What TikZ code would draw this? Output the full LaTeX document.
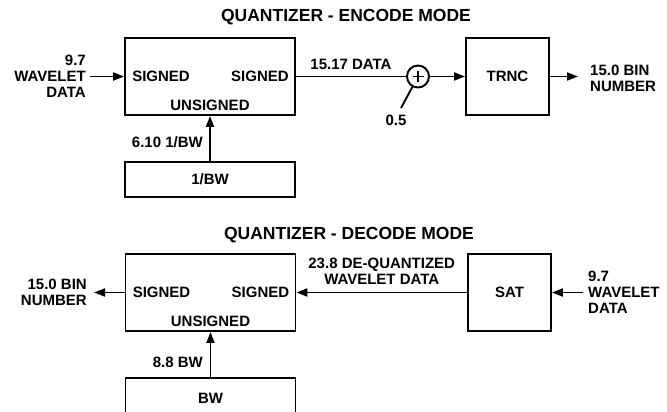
\documentclass[tikz,border=0pt]{standalone}
\usepackage{fontspec}
\setmainfont{Liberation Sans}
\usetikzlibrary{arrows.meta,positioning}
\tikzset{%
  every block/.style={
    draw,
    line width=1.9pt,
    inner sep=0pt,
    font=\fontsize{15}{16}\selectfont\bfseries
  },
  block wide/.style={minimum width=170pt, minimum height=77pt},
  block small/.style={minimum width=83pt, minimum height=77pt},
  block flat/.style={minimum width=170pt, minimum height=35pt},
  port/.style={inner sep=0pt, font=\fontsize{15}{16}\selectfont\bfseries},
  title/.style={inner sep=0pt, font=\fontsize{17.5}{19}\selectfont\bfseries},
  wire/.style={line width=1.9pt, -{Triangle[length=11pt,width=8pt]}},
  bare wire/.style={line width=1.9pt},
}

\begin{document}
\begin{tikzpicture}[x=1pt, y=-1pt]
\useasboundingbox (0,0) rectangle (667,412);

% encode mode
\node [title] (enc-title) at (346,17) {QUANTIZER - ENCODE MODE};
\node [every block, block wide] (enc-q) at (210,76.5) {};
\node [every block, block small] (enc-trnc) at (507.5,76.5) {TRNC};
\node [every block, block flat] (enc-bw) at (210,179.5) {1/BW};
\node [circle, draw, line width=1.9pt, minimum size=22pt, inner sep=0pt] (enc-sum) at (418,76.5) {};
\draw [line width=1.4pt] (enc-sum.center) ++(-5.5,0) -- ++(11,0)
  (enc-sum.center) ++(0,-5.5) -- ++(0,11);

\coordinate (enc-in) at (90,76.5);
\coordinate (enc-out) at (578,76.5);
\coordinate (enc-half) at (401,108);

% decode mode
\node [title] (dec-title) at (349,235) {QUANTIZER - DECODE MODE};
\node [every block, block wide] (dec-q) at (210.5,292.5) {};
\node [every block, block small] (dec-sat) at (509.5,292.5) {SAT};
\node [every block, block flat, minimum height=40pt] (dec-bw) at (210.5,398) {BW};

\coordinate (dec-out) at (94,292.5);
\coordinate (dec-in) at (583,292.5);

% ports of both quantizers
\foreach \q in {enc-q,dec-q} {
  \node [port, anchor=west] (\q-left) at ([xshift=8pt]\q.west) {SIGNED};
  \node [port, anchor=east] (\q-right) at ([xshift=-7pt]\q.east) {SIGNED};
  \node [port, anchor=south] (\q-bottom) at ([yshift=5pt]\q.south) {UNSIGNED};
}

% encode wires
\draw [wire] (enc-in) -- (enc-q);
\draw [bare wire] (enc-q) -- (enc-sum)
  node [port, midway, above=6pt] (enc-data) {15.17 DATA};
\draw [wire] (enc-sum) -- (enc-trnc);
\draw [wire] (enc-trnc) -- (enc-out);
\draw [wire] (enc-bw) -- (enc-q);
\draw [bare wire] (enc-sum) -- (enc-half);

\node [port, align=right, anchor=east] (enc-in-lbl) at (86,76) {9.7\\WAVELET\\DATA};
\node [port, align=left, anchor=west] (enc-out-lbl) at (590,78) {15.0 BIN\\NUMBER};
\node [port, anchor=east] (enc-bw-lbl) at (203,142) {6.10 1/BW};
\node [port] (enc-half-lbl) at (396,120) {0.5};

% decode wires
\draw [wire] (dec-q) -- (dec-out);
\draw [wire] (dec-sat) -- (dec-q)
  node [port, midway, above=7pt, align=center] (dec-data) {23.8 DE-QUANTIZED\\WAVELET DATA};
\draw [wire] (dec-in) -- (dec-sat);
\draw [wire] (dec-bw) -- (dec-q);

\node [port, align=right, anchor=east] (dec-out-lbl) at (87,292.5) {15.0 BIN\\NUMBER};
\node [port, align=left, anchor=west] (dec-in-lbl) at (588,292.5) {9.7\\WAVELET\\DATA};
\node [port, anchor=east] (dec-bw-lbl) at (203,362) {8.8 BW};

\end{tikzpicture}
\end{document}
